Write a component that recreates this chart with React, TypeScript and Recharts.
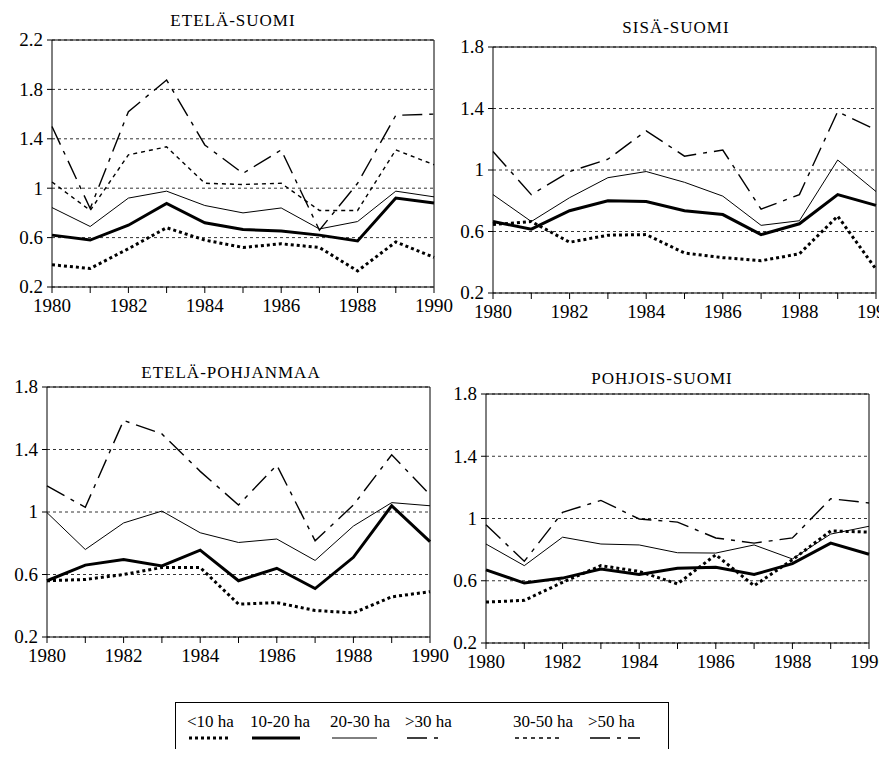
import { LineChart, Line, XAxis, YAxis, CartesianGrid, ReferenceLine } from "recharts"

const years = [1980, 1981, 1982, 1983, 1984, 1985, 1986, 1987, 1988, 1989, 1990]

// ETELÄ-SUOMI
const esLt10 = [0.38, 0.35, 0.51, 0.68, 0.58, 0.52, 0.55, 0.52, 0.33, 0.565, 0.44]
const es10to20 = [0.62, 0.58, 0.7, 0.876, 0.72, 0.665, 0.654, 0.62, 0.573, 0.92, 0.88]
const es20to30 = [0.843, 0.69, 0.92, 0.976, 0.86, 0.8, 0.84, 0.67, 0.73, 0.976, 0.93]
const es30to50 = [1.05, 0.82, 1.27, 1.335, 1.04, 1.03, 1.04, 0.82, 0.82, 1.31, 1.19]
const esGt50 = [1.5, 0.835, 1.62, 1.876, 1.35, 1.12, 1.31, 0.66, 1.04, 1.59, 1.6]

// SISÄ-SUOMI
const ssLt10 = [0.645, 0.665, 0.53, 0.576, 0.58, 0.46, 0.43, 0.41, 0.455, 0.7, 0.355]
const ss10to20 = [0.665, 0.615, 0.735, 0.8, 0.795, 0.735, 0.71, 0.58, 0.65, 0.84, 0.77]
const ss20to30 = [0.84, 0.665, 0.82, 0.95, 0.99, 0.92, 0.83, 0.64, 0.67, 1.065, 0.86]
const ssGt30 = [1.12, 0.84, 0.99, 1.07, 1.255, 1.09, 1.13, 0.745, 0.84, 1.38, 1.26]

// ETELÄ-POHJANMAA
const epLt10 = [0.56, 0.568, 0.6, 0.645, 0.645, 0.41, 0.42, 0.37, 0.354, 0.457, 0.49]
const ep10to20 = [0.56, 0.66, 0.696, 0.655, 0.756, 0.56, 0.64, 0.51, 0.71, 1.04, 0.81]
const ep20to30 = [0.996, 0.76, 0.93, 1.006, 0.867, 0.805, 0.827, 0.69, 0.91, 1.06, 1.04]
const epGt30 = [1.167, 1.03, 1.586, 1.5, 1.26, 1.045, 1.3, 0.816, 1.045, 1.366, 1.11]

// POHJOIS-SUOMI
const psLt10 = [0.463, 0.474, 0.59, 0.697, 0.66, 0.58, 0.767, 0.568, 0.735, 0.92, 0.913]
const ps10to20 = [0.67, 0.585, 0.617, 0.675, 0.64, 0.68, 0.686, 0.64, 0.71, 0.842, 0.77]
const ps20to30 = [0.836, 0.697, 0.88, 0.836, 0.83, 0.78, 0.778, 0.83, 0.74, 0.9, 0.95]
const psGt30 = [0.96, 0.725, 1.04, 1.116, 0.997, 0.977, 0.875, 0.842, 0.875, 1.127, 1.1]

const ticksTall = [0.2, 0.6, 1, 1.4, 1.8, 2.2]
const ticksShort = [0.2, 0.6, 1, 1.4, 1.8]

const legendLabels = ["<10 ha", "10-20 ha", "20-30 ha", ">30 ha", "30-50 ha", ">50 ha"]

const font = "Liberation Serif, serif"

const styles: Record<string, { width: number; dash?: string }> = {
  lt10: { width: 3, dash: "3 3" },
  s10to20: { width: 3 },
  s20to30: { width: 1 },
  s30to50: { width: 1.4, dash: "4 4" },
  gt50: { width: 1.4, dash: "20 7 4 7" },
  gt30: { width: 1.4, dash: "20 7 4 7" },
}

// custom ticks so the serif font really reaches the svg text
const XTick = (props: any) => {
  const { x, y, payload } = props
  const v = Number(payload.value)
  if (v % 2 !== 0) return <g />
  return (
    <text x={x} y={y} dy="0.75em" textAnchor="middle" fontFamily={font} fontSize={19} fill="#000">
      {v}
    </text>
  )
}

const YTick = (props: any) => {
  const { x, y, payload } = props
  return (
    <text x={x} y={y} dy="0.34em" textAnchor="end" fontFamily={font} fontSize={19} fill="#000">
      {String(payload.value)}
    </text>
  )
}

type PanelProps = {
  left: number
  top: number
  plotW: number
  plotH: number
  title: string
  titleX: number
  titleY: number
  series: Record<string, number[]>
  ticks: number[]
}

function Panel({ left, top, plotW, plotH, title, titleX, titleY, series, ticks }: PanelProps) {
  const data = years.map((year, i) => {
    const row: Record<string, number> = { year }
    Object.keys(series).forEach((k) => (row[k] = series[k][i]))
    return row
  })
  const yMax = ticks[ticks.length - 1]
  return (
    <>
      <div
        style={{
          position: "absolute",
          left: titleX,
          top: titleY,
          transform: "translateX(-50%)",
          fontFamily: font,
          fontSize: 17,
          letterSpacing: 1,
          lineHeight: "17px",
          whiteSpace: "nowrap",
          color: "#000",
        }}
      >
        {title}
      </div>
      <div style={{ position: "absolute", left: left - 52, top: top - 40 }}>
        <LineChart
          width={plotW + 72}
          height={plotH + 85}
          data={data}
          margin={{ top: 40, right: 20, left: 12, bottom: 15 }}
        >
          <CartesianGrid vertical={false} stroke="#000" strokeDasharray="3 3" strokeWidth={0.8} />
          <XAxis
            dataKey="year"
            interval={0}
            height={30}
            tickSize={6}
            tickMargin={5}
            stroke="#000"
            tick={<XTick />}
          />
          <YAxis
            type="number"
            domain={[0.2, yMax]}
            ticks={ticks}
            interval={0}
            width={40}
            tickSize={5}
            tickMargin={4}
            stroke="#000"
            tick={<YTick />}
          />
          <ReferenceLine y={yMax} stroke="#000" />
          <ReferenceLine x={1990} stroke="#000" />
          {Object.keys(series).map((k) => (
            <Line
              key={k}
              type="linear"
              dataKey={k}
              stroke="#000"
              strokeWidth={styles[k].width}
              strokeDasharray={styles[k].dash}
              dot={false}
              isAnimationActive={false}
            />
          ))}
        </LineChart>
      </div>
    </>
  )
}

function LegendBox() {
  const items = [
    { label: legendLabels[0], x: 187, key: "lt10", w: 42 },
    { label: legendLabels[1], x: 250, key: "s10to20", w: 48 },
    { label: legendLabels[2], x: 330, key: "s20to30", w: 45 },
    { label: legendLabels[3], x: 405, key: "gt30", w: 38 },
    { label: legendLabels[4], x: 513, key: "s30to50", w: 44 },
    { label: legendLabels[5], x: 588, key: "gt50", w: 50 },
  ]
  return (
    <svg
      width={887}
      height={757}
      style={{ position: "absolute", left: 0, top: 0, pointerEvents: "none" }}
    >
      <rect x={175.5} y={702.5} width={493} height={52} fill="none" stroke="#000" strokeWidth={1} />
      {items.map((it) => (
        <g key={it.label}>
          <text x={it.x} y={727} fontFamily={font} fontSize={17} fill="#000">
            {it.label}
          </text>
          <line
            x1={it.x + 2}
            x2={it.x + 2 + it.w}
            y1={738}
            y2={738}
            stroke="#000"
            strokeWidth={styles[it.key].width}
            strokeDasharray={styles[it.key].dash}
          />
        </g>
      ))}
    </svg>
  )
}

export default function App() {
  return (
    <div
      style={{
        position: "relative",
        width: 887,
        height: 757,
        margin: -8,
        overflow: "hidden",
        background: "#fff",
        fontFamily: font,
      }}
    >
      <Panel
        left={52}
        top={40}
        plotW={382}
        plotH={247}
        title="ETELÄ-SUOMI"
        titleX={233}
        titleY={12}
        ticks={ticksTall}
        series={{ lt10: esLt10, s10to20: es10to20, s20to30: es20to30, s30to50: es30to50, gt50: esGt50 }}
      />
      <Panel
        left={493}
        top={47}
        plotW={383}
        plotH={246}
        title="SISÄ-SUOMI"
        titleX={676}
        titleY={19}
        ticks={ticksShort}
        series={{ lt10: ssLt10, s10to20: ss10to20, s20to30: ss20to30, gt30: ssGt30 }}
      />
      <Panel
        left={47}
        top={387}
        plotW={383}
        plotH={250}
        title="ETELÄ-POHJANMAA"
        titleX={231}
        titleY={364}
        ticks={ticksShort}
        series={{ lt10: epLt10, s10to20: ep10to20, s20to30: ep20to30, gt30: epGt30 }}
      />
      <Panel
        left={486}
        top={394}
        plotW={383}
        plotH={249}
        title="POHJOIS-SUOMI"
        titleX={662}
        titleY={370}
        ticks={ticksShort}
        series={{ lt10: psLt10, s10to20: ps10to20, s20to30: ps20to30, gt30: psGt30 }}
      />
      <LegendBox />
    </div>
  )
}
